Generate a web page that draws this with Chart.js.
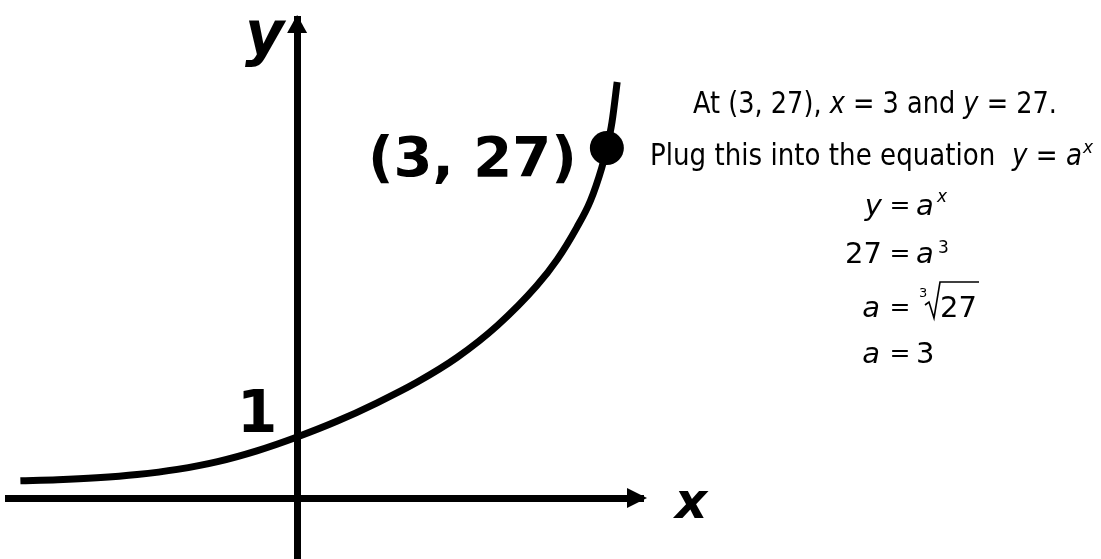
<!DOCTYPE html>
<html>
<head>
<meta charset="utf-8">
<script src="https://cdn.jsdelivr.net/npm/chart.js@4.4.0/dist/chart.umd.min.js"></script>
<style>
  html, body { margin: 0; padding: 0; background: #fff; }
  #wrap { width: 1101px; height: 559px; position: relative; }
</style>
</head>
<body>
<div id="wrap"><canvas id="sketch"></canvas></div>
<script>
// points along the hand drawn curve (sketch, not to scale)
const curveX = [-2.68, -2.32, -1.94, -1.55, -1.16, -0.77, -0.39, 0, 0.39, 0.77, 1.16, 1.55, 1.94, 2.32, 2.52, 2.71, 2.84, 2.95, 3.00, 3.05, 3.10];
const curveY = [1.33, 1.41, 1.56, 1.81, 2.21, 2.81, 3.64, 4.71, 5.94, 7.33, 8.93, 10.85, 13.31, 16.37, 18.41, 20.88, 22.91, 25.46, 27.00, 29.01, 32.09];

// the marked point
const pointX = [3];
const pointY = [27];
const pointLabel = '(3, 27)';
const interceptLabel = '1';
const axisNames = ['x', 'y'];

const FONT = '"DejaVu Sans", sans-serif';

// draws a row of text pieces, squeezed to a given width
function drawRuns(ctx, runs, x, y, width) {
    let total = 0;
    runs.forEach(r => {
        ctx.font = r.font;
        total += ctx.measureText(r.text).width;
    });
    ctx.save();
    ctx.translate(x, y);
    ctx.scale(width / total, 1);
    ctx.textAlign = 'left';
    ctx.textBaseline = 'alphabetic';
    let cx = 0;
    runs.forEach(r => {
        ctx.font = r.font;
        ctx.fillText(r.text, cx, r.dy || 0);
        cx += ctx.measureText(r.text).width;
    });
    ctx.restore();
}

function txt(ctx, s, font, x, y, align) {
    ctx.font = font;
    ctx.textAlign = align || 'left';
    ctx.textBaseline = 'alphabetic';
    ctx.fillText(s, x, y);
}

const sketchPlugin = {
    id: 'sketch',
    afterDraw(chart) {
        const ctx = chart.ctx;
        const area = chart.chartArea;
        const xs = chart.scales.x;
        const ys = chart.scales.y;
        const x0 = xs.getPixelForValue(0);
        const y0 = ys.getPixelForValue(0);

        ctx.save();
        ctx.fillStyle = '#000';
        ctx.strokeStyle = '#000';

        // arrow heads
        ctx.beginPath();
        ctx.moveTo(x0, area.top - 4);
        ctx.lineTo(x0 - 10, area.top + 14);
        ctx.lineTo(x0 + 10, area.top + 14);
        ctx.closePath();
        ctx.fill();
        ctx.beginPath();
        ctx.moveTo(area.right + 4, y0);
        ctx.lineTo(area.right - 16, y0 - 10);
        ctx.lineTo(area.right - 16, y0 + 10);
        ctx.closePath();
        ctx.fill();

        // axis names
        txt(ctx, axisNames[1], 'bold italic 60px ' + FONT, x0 - 52, area.top + 35);
        txt(ctx, axisNames[0], 'bold italic 50px ' + FONT, area.right + 32, y0 + 20);

        // intercept label
        const iy = ys.getPixelForValue(curveY[curveX.indexOf(0)]);
        txt(ctx, interceptLabel, 'bold 58px ' + FONT, x0 - 40, iy - 5, 'center');

        // point label
        const px = xs.getPixelForValue(pointX[0]);
        const py = ys.getPixelForValue(pointY[0]);
        txt(ctx, pointLabel, 'bold 56px ' + FONT, px - 30, py + 28, 'right');

        // working on the right
        const n = '30px ' + FONT;
        const it = 'italic 30px ' + FONT;
        drawRuns(ctx, [
            {text: 'At (3, 27), ', font: n},
            {text: 'x', font: it},
            {text: ' = 3 and ', font: n},
            {text: 'y', font: it},
            {text: ' = 27.', font: n}
        ], 693, 113, 364);
        drawRuns(ctx, [
            {text: 'Plug this into the equation  ', font: n},
            {text: 'y', font: it},
            {text: ' = ', font: n},
            {text: 'a', font: it}
        ], 650, 165, 432);
        txt(ctx, 'x', 'italic 17px ' + FONT, 1083, 153);

        const e = '29px ' + FONT;
        const eq = '25px ' + FONT;
        const ei = 'italic 29px ' + FONT;
        // y = a^x
        txt(ctx, 'y', ei, 882, 215, 'right');
        txt(ctx, '=', eq, 900, 213, 'center');
        txt(ctx, 'a', ei, 916, 215);
        txt(ctx, 'x', 'italic 17px ' + FONT, 937, 202);
        // 27 = a^3
        txt(ctx, '27', e, 882, 263, 'right');
        txt(ctx, '=', eq, 900, 261, 'center');
        txt(ctx, 'a', ei, 916, 263);
        txt(ctx, '3', '17px ' + FONT, 938, 253);
        // a = cube root 27
        txt(ctx, 'a', ei, 880, 317, 'right');
        txt(ctx, '=', eq, 900, 315, 'center');
        txt(ctx, '3', '13px ' + FONT, 919, 297);
        ctx.lineWidth = 1.6;
        ctx.beginPath();
        ctx.moveTo(925, 305);
        ctx.lineTo(929, 302);
        ctx.lineTo(934, 318);
        ctx.lineTo(940, 282);
        ctx.lineTo(979, 282);
        ctx.stroke();
        txt(ctx, '27', e, 940, 317);
        // a = 3
        txt(ctx, 'a', ei, 880, 363, 'right');
        txt(ctx, '=', eq, 900, 361, 'center');
        txt(ctx, '3', e, 916, 363);

        ctx.restore();
    }
};

const ctx = document.getElementById('sketch').getContext('2d');
new Chart(ctx, {
    type: 'scatter',
    data: {
        datasets: [{
            data: curveX.map((x, i) => ({x: x, y: curveY[i]})),
            showLine: true,
            borderColor: '#000',
            borderWidth: 7,
            pointRadius: 0,
            cubicInterpolationMode: 'monotone'
        }, {
            data: pointX.map((x, i) => ({x: x, y: pointY[i]})),
            pointRadius: 17,
            pointBackgroundColor: '#000',
            pointBorderWidth: 0
        }]
    },
    options: {
        responsive: true,
        maintainAspectRatio: false,
        animation: false,
        events: [],
        layout: {
            autoPadding: false,
            padding: {left: 8, right: 458, top: 19, bottom: 0}
        },
        plugins: {
            legend: {display: false},
            tooltip: {enabled: false}
        },
        scales: {
            x: {
                type: 'linear',
                min: -2.8,
                max: 3.35,
                position: {y: 0},
                grid: {display: false, drawTicks: false},
                ticks: {display: false},
                border: {display: true, width: 7, color: '#000'}
            },
            y: {
                type: 'linear',
                min: -4.7,
                max: 36.95,
                position: {x: 0},
                grid: {display: false, drawTicks: false},
                ticks: {display: false},
                border: {display: true, width: 7, color: '#000'}
            }
        }
    },
    plugins: [sketchPlugin]
});
</script>
</body>
</html>
